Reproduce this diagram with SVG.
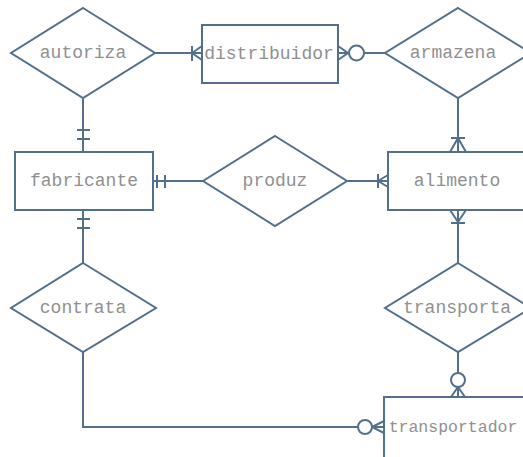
<svg xmlns="http://www.w3.org/2000/svg" width="523" height="457" viewBox="0 0 523 457">
<style>
.s{fill:#fff;stroke:#52708b;stroke-width:2}
.l{fill:none;stroke:#52708b;stroke-width:2}
.t{font-family:"Liberation Mono","Courier New",monospace;font-size:18px;fill:#909090;text-anchor:middle;dominant-baseline:central}
</style>
<rect width="523" height="457" fill="#fff"/>
<g id="connectors">
<!-- autoriza - distribuidor -->
<path class="l" d="M155 53H202M192 46V61M192 53L202 46M192 53L202 60"/>
<!-- distribuidor - armazena -->
<path class="l" d="M338 53H349M364 53H385M338 46L348 53L338 60"/>
<circle class="s" cx="356.5" cy="53" r="7.5"/>
<!-- autoriza - fabricante -->
<path class="l" d="M83 98V152M77 130H90M77 139H90"/>
<!-- fabricante - produz -->
<path class="l" d="M153 181H203M157 175V188M165 175V188"/>
<!-- produz - alimento -->
<path class="l" d="M347 181H388M378 174V188M378 181L388 175M378 181L388 187"/>
<!-- armazena - alimento -->
<path class="l" d="M458 98V152M451 138H465M458 138L450 152M458 138L466 152"/>
<!-- alimento - transporta -->
<path class="l" d="M458 210V263M450 210L458 222L466 210M451 223H465"/>
<!-- fabricante - contrata -->
<path class="l" d="M83 210V263M77 219H90M77 228H90"/>
<!-- contrata - transportador -->
<path class="l" d="M83 352V427H358M372 427H384M384 421L372 427L384 433"/>
<circle class="s" cx="365" cy="427" r="7"/>
<!-- transporta - transportador -->
<path class="l" d="M458 352V373M458 387V397M451 397L458 387L465 397"/>
<circle class="s" cx="458" cy="380" r="7"/>
</g>
<g id="autoriza"><polygon class="s" points="83,8 155,53 83,98 11,53"/><text class="t" x="83" y="53">autoriza</text></g>
<g id="distribuidor"><rect class="s" x="202" y="25" width="136" height="58"/><text class="t" x="269" y="54">distribuidor</text></g>
<g id="armazena"><polygon class="s" points="458,8 531,53 458,98 385,53"/><text class="t" x="453" y="53">armazena</text></g>
<g id="fabricante"><rect class="s" x="15" y="152" width="138" height="58"/><text class="t" x="84" y="181">fabricante</text></g>
<g id="produz"><polygon class="s" points="275,136 347,181 275,226 203,181"/><text class="t" x="275" y="181">produz</text></g>
<g id="alimento"><rect class="s" x="388" y="152" width="145" height="58"/><text class="t" x="457" y="181">alimento</text></g>
<g id="contrata"><polygon class="s" points="83,263 156,308 83,352 11,308"/><text class="t" x="83" y="308">contrata</text></g>
<g id="transporta"><polygon class="s" points="458,263 531,308 458,352 385,308"/><text class="t" x="457" y="308">transporta</text></g>
<g id="transportador"><rect class="s" x="384" y="397" width="150" height="70"/><text class="t" x="453" y="427" style="font-size:16.5px">transportador</text></g>
</svg>
